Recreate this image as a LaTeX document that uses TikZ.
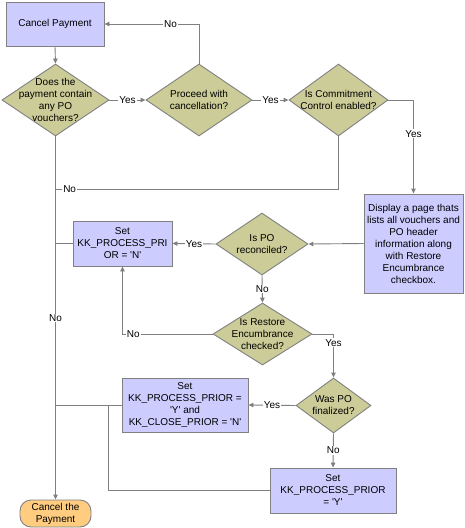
\documentclass[tikz,border=0pt]{standalone}
\usepackage{fontspec}
\setmainfont{Liberation Sans}
\usepackage{xcolor}
\usepackage{tikz}
\usetikzlibrary{arrows.meta,shapes.geometric}
\definecolor{edge}{HTML}{808080}
\definecolor{boxbg}{HTML}{CCCCFF}
\definecolor{decbg}{HTML}{CCCC99}
\definecolor{endbg}{HTML}{FFCC80}
\newcommand{\sq}{\textquotesingle}
\tikzset{
  box/.style={draw=edge, fill=boxbg, line width=0.9pt, inner sep=0pt,
    align=center, font=\fontsize{10}{12}\selectfont},
  dec/.style={diamond, draw=edge, fill=decbg, line width=0.9pt, inner sep=0pt},
  qtext/.style={align=center, font=\fontsize{10}{12}\selectfont, inner sep=0pt},
  endbox/.style={draw=edge, fill=endbg, line width=0.9pt, inner sep=0pt,
    rounded corners=11pt, align=center, font=\fontsize{10}{12}\selectfont},
  flow/.style={draw=edge, line width=0.9pt, -{Triangle[length=5pt,width=4.5pt]}},
  link/.style={draw=edge, line width=0.9pt},
  lab/.style={font=\fontsize{10}{12}\selectfont, fill=white, inner sep=1pt}
}

\begin{document}
\begin{tikzpicture}[x=1pt, y=-1pt]
  \useasboundingbox (0,0) rectangle (465,528);

  \node[box, minimum width=98pt, minimum height=44pt] (CP) at (55,24) {Cancel Payment};

  \node[dec, minimum width=107pt, minimum height=72pt,
    label={[qtext]center:{Does the\\payment contain\\any PO\\vouchers?}}] (PO) at (55.5,100) {};
  \node[dec, minimum width=106pt, minimum height=72pt,
    label={[qtext]center:{Proceed with\\cancellation?}}] (PR) at (199,100) {};
  \node[dec, minimum width=99pt, minimum height=72pt,
    label={[qtext]center:{Is Commitment\\Control enabled?}}] (CC) at (338.5,100) {};

  \node[box, minimum width=99pt, minimum height=99pt] (DP) at (413.5,243.5)
  {Display a page thats\\lists all vouchers and\\PO header\\information along\\with Restore\\Encumbrance\\checkbox.};

  \node[dec, minimum width=92pt, minimum height=62pt,
    label={[qtext]center:{Is PO\\reconciled?}}] (RC) at (262,244) {};
  \node[box, minimum width=99pt, minimum height=45pt] (SN) at (122.5,243.5)
  {Set\\KK\_PROCESS\_PRI\\OR = \sq N\sq};

  \node[dec, minimum width=99pt, minimum height=62pt,
    label={[qtext]center:{Is Restore\\Encumbrance\\checked?}}] (RE) at (262.5,334) {};

  \node[dec, minimum width=75pt, minimum height=55pt,
    label={[qtext]center:{Was PO\\finalized?}}] (FN) at (333.5,405.5) {};
  \node[box, minimum width=126pt, minimum height=54pt] (SYN) at (185,405)
  {Set\\KK\_PROCESS\_PRIOR =\\\sq Y\sq{} and\\KK\_CLOSE\_PRIOR = \sq N\sq};
  \node[box, minimum width=126pt, minimum height=45pt] (SY) at (333,490.5)
  {Set\\KK\_PROCESS\_PRIOR\\= \sq Y\sq};

  \node[endbox, minimum width=71pt, minimum height=27pt] (CT) at (55.5,513.5)
  {Cancel the\\Payment};

  \coordinate (JN) at (55.5,189);
  \coordinate (JY) at (108,405);

  \draw[flow] (CP.south) -- (PO.north);
  \draw[flow] (PO.east) -- node[lab] {Yes} (PR.west);
  \draw[flow] (PR.east) -- node[lab] {Yes} (CC.west);
  \draw[flow] (PR.north) |- node[lab, pos=0.65] {No} (CP.east);
  \draw[flow] (CC.east) -| node[lab, pos=0.68] {Yes} (DP.north);
  \draw[link] (CC.south) |- node[lab, pos=0.975] {No} (JN);
  \draw[flow] (PO.south) -- node[lab] {No} (CT.north);

  \draw[flow] (DP.west) -- (RC.east);
  \draw[flow] (RC.west) -- node[lab] {Yes} (SN.east);
  \draw[link] (SN.west) -- (SN.west -| CT.north);
  \draw[flow] (RC.south) -- node[lab] {No} (RE.north);
  \draw[flow] (RE.west) -| node[lab, pos=0.44] {No} (SN.south);
  \draw[flow] (RE.east) -| node[lab, pos=0.6] {Yes} (FN.north);

  \draw[flow] (FN.west) -- node[lab] {Yes} (SYN.east);
  \draw[link] (SYN.west) -- (SYN.west -| CT.north);
  \draw[flow] (FN.south) -- node[lab] {No} (SY.north);
  \draw[link] (SY.west) -| (JY);
\end{tikzpicture}
\end{document}
